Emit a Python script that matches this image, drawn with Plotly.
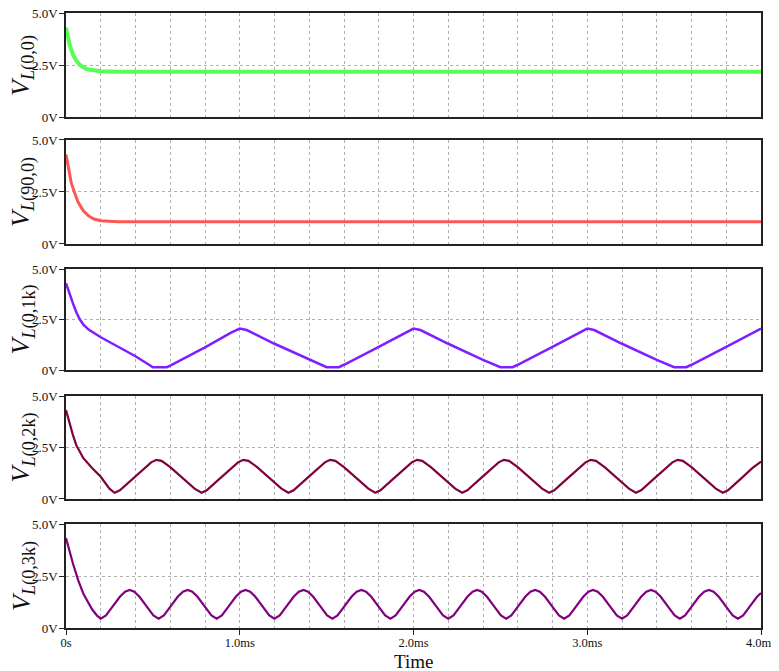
import plotly.graph_objects as go
from plotly.subplots import make_subplots

# time in ms, voltage in V
t_00 = [0, 0.01, 0.02, 0.04, 0.06, 0.08, 0.10, 0.13, 0.16, 0.20, 0.30, 4.0]
v_00 = [4.3, 3.85, 3.5, 3.0, 2.7, 2.5, 2.38, 2.28, 2.23, 2.2, 2.18, 2.18]

t_900 = [0, 0.01, 0.02, 0.03, 0.05, 0.07, 0.10, 0.13, 0.16, 0.20, 0.30, 4.0]
v_900 = [4.3, 3.8, 3.35, 2.95, 2.45, 2.0, 1.6, 1.35, 1.2, 1.12, 1.07, 1.07]

t_01k = [0, 0.02, 0.04, 0.06, 0.08, 0.10, 0.13, 0.20, 0.30, 0.40, 0.48, 0.50, 0.58,
         0.60, 0.80, 0.95, 1.00, 1.04, 1.20, 1.40, 1.48, 1.50, 1.57,
         1.60, 1.80, 1.95, 2.00, 2.04, 2.20, 2.40, 2.48, 2.50, 2.57,
         2.60, 2.80, 2.95, 3.00, 3.04, 3.20, 3.40, 3.48, 3.50, 3.57,
         3.60, 3.80, 3.95, 4.00]
v_01k = [4.3, 3.75, 3.3, 2.85, 2.5, 2.25, 2.0, 1.62, 1.15, 0.68, 0.25, 0.14, 0.14,
         0.22, 1.12, 1.85, 2.05, 1.98, 1.3, 0.5, 0.2, 0.14, 0.14,
         0.26, 1.15, 1.85, 2.05, 1.98, 1.3, 0.5, 0.2, 0.14, 0.14,
         0.26, 1.15, 1.85, 2.05, 1.98, 1.3, 0.5, 0.2, 0.14, 0.14,
         0.26, 1.15, 1.85, 2.05]

t_02k = [0, 0.02, 0.04, 0.06, 0.10, 0.15, 0.20, 0.25, 0.28,
         0.31, 0.38, 0.45, 0.49, 0.52, 0.55, 0.60, 0.68, 0.74, 0.78,
         0.81, 0.88, 0.95, 0.99, 1.02, 1.05, 1.10, 1.18, 1.24, 1.28,
         1.31, 1.38, 1.45, 1.49, 1.52, 1.55, 1.60, 1.68, 1.74, 1.78,
         1.81, 1.88, 1.95, 1.99, 2.02, 2.05, 2.10, 2.18, 2.24, 2.28,
         2.31, 2.38, 2.45, 2.49, 2.52, 2.55, 2.60, 2.68, 2.74, 2.78,
         2.81, 2.88, 2.95, 2.99, 3.02, 3.05, 3.10, 3.18, 3.24, 3.28,
         3.31, 3.38, 3.45, 3.49, 3.52, 3.55, 3.60, 3.68, 3.74, 3.78,
         3.81, 3.88, 3.95, 4.00]
v_02k = [4.32, 3.7, 3.1, 2.6, 1.98, 1.5, 1.08, 0.5, 0.3,
         0.42, 0.95, 1.5, 1.78, 1.9, 1.85, 1.55, 0.95, 0.5, 0.3,
         0.42, 0.95, 1.5, 1.78, 1.9, 1.85, 1.55, 0.95, 0.5, 0.3,
         0.42, 0.95, 1.5, 1.78, 1.9, 1.85, 1.55, 0.95, 0.5, 0.3,
         0.42, 0.95, 1.5, 1.78, 1.9, 1.85, 1.55, 0.95, 0.5, 0.3,
         0.42, 0.95, 1.5, 1.78, 1.9, 1.85, 1.55, 0.95, 0.5, 0.3,
         0.42, 0.95, 1.5, 1.78, 1.9, 1.85, 1.55, 0.95, 0.5, 0.3,
         0.42, 0.95, 1.5, 1.78, 1.9, 1.85, 1.55, 0.95, 0.5, 0.3,
         0.42, 0.95, 1.5, 1.82]

t_03k = [0, 0.02, 0.04, 0.07, 0.10, 0.15, 0.18, 0.20,
         0.23, 0.27, 0.31, 0.34, 0.367, 0.393, 0.423, 0.463, 0.503, 0.533,
         0.563, 0.603, 0.643, 0.673, 0.70, 0.727, 0.757, 0.797, 0.837, 0.867,
         0.897, 0.937, 0.977, 1.007, 1.033, 1.06, 1.09, 1.13, 1.17, 1.20,
         1.23, 1.27, 1.31, 1.34, 1.367, 1.393, 1.423, 1.463, 1.503, 1.533,
         1.563, 1.603, 1.643, 1.673, 1.70, 1.727, 1.757, 1.797, 1.837, 1.867,
         1.897, 1.937, 1.977, 2.007, 2.033, 2.06, 2.09, 2.13, 2.17, 2.20,
         2.23, 2.27, 2.31, 2.34, 2.367, 2.393, 2.423, 2.463, 2.503, 2.533,
         2.563, 2.603, 2.643, 2.673, 2.70, 2.727, 2.757, 2.797, 2.837, 2.867,
         2.897, 2.937, 2.977, 3.007, 3.033, 3.06, 3.09, 3.13, 3.17, 3.20,
         3.23, 3.27, 3.31, 3.34, 3.367, 3.393, 3.423, 3.463, 3.503, 3.533,
         3.563, 3.603, 3.643, 3.673, 3.70, 3.727, 3.757, 3.797, 3.837, 3.867,
         3.897, 3.937, 3.977, 4.00]
v_03k = [4.33, 3.7, 3.1, 2.3, 1.65, 0.9, 0.58, 0.45,
         0.6, 1.05, 1.5, 1.75, 1.83, 1.75, 1.5, 1.05, 0.6, 0.45,
         0.6, 1.05, 1.5, 1.75, 1.83, 1.75, 1.5, 1.05, 0.6, 0.45,
         0.6, 1.05, 1.5, 1.75, 1.83, 1.75, 1.5, 1.05, 0.6, 0.45,
         0.6, 1.05, 1.5, 1.75, 1.83, 1.75, 1.5, 1.05, 0.6, 0.45,
         0.6, 1.05, 1.5, 1.75, 1.83, 1.75, 1.5, 1.05, 0.6, 0.45,
         0.6, 1.05, 1.5, 1.75, 1.83, 1.75, 1.5, 1.05, 0.6, 0.45,
         0.6, 1.05, 1.5, 1.75, 1.83, 1.75, 1.5, 1.05, 0.6, 0.45,
         0.6, 1.05, 1.5, 1.75, 1.83, 1.75, 1.5, 1.05, 0.6, 0.45,
         0.6, 1.05, 1.5, 1.75, 1.83, 1.75, 1.5, 1.05, 0.6, 0.45,
         0.6, 1.05, 1.5, 1.75, 1.83, 1.75, 1.5, 1.05, 0.6, 0.45,
         0.6, 1.05, 1.5, 1.75, 1.83, 1.75, 1.5, 1.05, 0.6, 0.45,
         0.6, 1.05, 1.5, 1.68]

labels = ["(0,0)", "(90,0)", "(0,1k)", "(0,2k)", "(0,3k)"]
colors = ["#55ff55", "#ff5555", "#7f1fff", "#800040", "#800080"]
widths = [4, 3, 2.5, 2.2, 2.2]
series = [(t_00, v_00), (t_900, v_900), (t_01k, v_01k), (t_02k, v_02k), (t_03k, v_03k)]

x_tickvals = [0, 1, 2, 3, 4]
x_ticktext = ["0s", "1.0ms", "2.0ms", "3.0ms", "4.0ms"]
y_tickvals = [0, 2.5, 5]
y_ticktext = ["0V", "2.5V", "5.0V"]

domains = [[0.8309, 1.0], [0.6244, 0.7935], [0.4195, 0.5837], [0.2098, 0.3772], [0.0, 0.1691]]

FONT = "Liberation Serif"

fig = make_subplots(rows=5, cols=1, shared_xaxes=True, vertical_spacing=0.03)

for i, ((t, v), c, w) in enumerate(zip(series, colors, widths)):
    fig.add_trace(go.Scatter(x=t, y=v, mode="lines", line=dict(color=c, width=w),
                             showlegend=False), row=i + 1, col=1)

for i in range(5):
    r = i + 1
    last = (r == 5)
    fig.update_xaxes(row=r, col=1, range=[0, 4], tickvals=x_tickvals,
                     ticktext=x_ticktext, showticklabels=last, automargin=False,
                     ticklabeloverflow="allow", ticklabelstandoff=-3,
                     ticks="outside" if last else "", ticklen=5, tickcolor="#222",
                     showline=True, linecolor="#222", linewidth=1.5, mirror=True,
                     showgrid=True, gridcolor="#b0b0b0", griddash="dot", gridwidth=1,
                     minor=dict(dtick=0.2, showgrid=True, gridcolor="#b0b0b0",
                                griddash="dot", gridwidth=1),
                     zeroline=False,
                     tickfont=dict(family=FONT, size=12.5, color="#111"))
    fig.update_yaxes(row=r, col=1, range=[0, 5], domain=domains[i], automargin=False,
                     ticklabeloverflow="allow", ticklabelstandoff=-1,
                     tickvals=y_tickvals, ticktext=y_ticktext,
                     ticks="outside", ticklen=5, tickcolor="#222",
                     showline=True, linecolor="#222", linewidth=1.5, mirror=True,
                     showgrid=True, gridcolor="#b0b0b0", griddash="dot", gridwidth=1,
                     zeroline=False,
                     tickfont=dict(family=FONT, size=13, color="#111"))
    fig.add_annotation(text="<i>V</i><sub><i>L</i>" + labels[i] + "</sub>",
                       xref="paper", yref="paper", x=-0.062,
                       y=(domains[i][0] + domains[i][1]) / 2,
                       xanchor="center", yanchor="middle", textangle=-90,
                       showarrow=False,
                       font=dict(family=FONT, size=26, color="#111"))

fig.add_annotation(text="Time", xref="paper", yref="paper", x=0.5, y=-0.054,
                   xanchor="center", yanchor="middle", showarrow=False,
                   font=dict(family=FONT, size=19, color="#111"))

# page body has an 8px margin; margins compensate so the plot sits at the intended pixels
fig.update_layout(width=779, height=671, margin=dict(l=58, r=26, t=5, b=51),
                  plot_bgcolor="white", paper_bgcolor="white",
                  font=dict(family=FONT))

fig.write_html("out.html")
